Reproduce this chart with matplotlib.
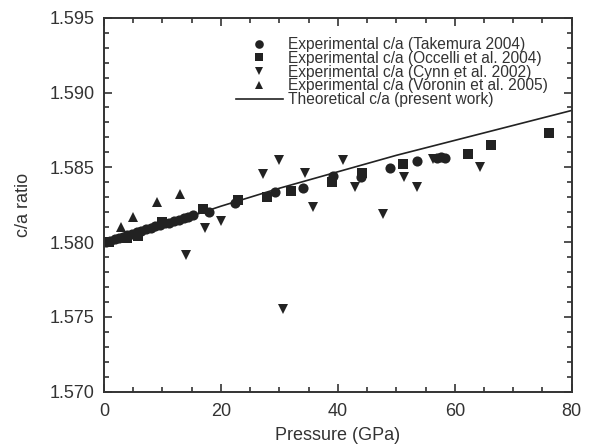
import matplotlib
matplotlib.use("Agg")
import matplotlib.pyplot as plt
from matplotlib.ticker import MultipleLocator, FormatStrFormatter

plt.rcParams['font.family'] = ['Liberation Sans', 'DejaVu Sans']

# Takemura 2004 (circles)
tak_p = [0.3, 1.0, 1.8, 2.5, 3.2, 4.0, 4.8, 5.6, 6.4, 7.2, 8.0, 8.8, 9.6, 10.4,
         11.2, 12.0, 12.8, 13.6, 14.4, 15.2, 18.0, 22.4, 29.2, 34.1, 39.2, 44.0,
         48.9, 53.6, 56.9, 57.6, 58.3]
tak_ca = [1.58003, 1.58010, 1.58022, 1.58030, 1.58036, 1.58049, 1.58055, 1.58068,
          1.58074, 1.58087, 1.58093, 1.58106, 1.58111, 1.58125, 1.58130, 1.58143,
          1.58150, 1.58161, 1.58170, 1.58181, 1.58199, 1.58259, 1.58333, 1.58362,
          1.58442, 1.58433, 1.58493, 1.58542, 1.58564, 1.58566, 1.58565]

# Occelli et al. 2004 (squares)
occ_p = [0.0, 0.8, 3.9, 5.9, 9.9, 17.0, 22.9, 27.9, 32.0, 39.0, 44.2, 51.1,
         62.2, 66.2, 76.2]
occ_ca = [1.58000, 1.58002, 1.58025, 1.58043, 1.58136, 1.58218, 1.58281, 1.58303,
          1.58344, 1.58404, 1.58460, 1.58520, 1.58589, 1.58649, 1.58727]

# Cynn et al. 2002 (down triangles)
cyn_p = [14.1, 17.2, 20.0, 27.2, 30.0, 30.7, 34.3, 35.7, 40.8, 42.9, 47.8,
         51.4, 53.6, 56.3, 64.3]
cyn_ca = [1.57914, 1.58092, 1.58141, 1.58455, 1.58549, 1.57551, 1.58460, 1.58233,
          1.58549, 1.58366, 1.58186, 1.58437, 1.58366, 1.58553, 1.58504]

# Voronin et al. 2005 (up triangles)
vor_p = [2.9, 5.0, 9.0, 13.0]
vor_ca = [1.58099, 1.58170, 1.58270, 1.58321]

# Theoretical c/a (present work)
th_p = [0, 10, 20, 30, 40, 50, 60, 70, 80]
th_ca = [1.5797, 1.5811, 1.5824, 1.5836, 1.5847, 1.5858, 1.5868, 1.5878, 1.5888]

fig = plt.figure(figsize=(5.91, 4.47), dpi=100)
ax = fig.add_axes([104/591, 1-391.7/447, (571.7-104)/591, (391.7-17.7)/447])

mc = '#222222'
ms = 7.3
ax.plot(tak_p, tak_ca, 'o', color=mc, ms=ms, mew=0,
        label='Experimental c/a (Takemura 2004)')
ax.plot(occ_p, occ_ca, 's', color=mc, ms=ms, mew=0,
        label='Experimental c/a (Occelli et al. 2004)')
ax.plot(cyn_p, cyn_ca, 'v', color=mc, ms=ms, mew=0,
        label='Experimental c/a (Cynn et al. 2002)')
ax.plot(vor_p, vor_ca, '^', color=mc, ms=ms, mew=0,
        label='Experimental c/a (Voronin et al. 2005)')
ax.plot(th_p, th_ca, '-', color=mc, lw=1.2,
        label='Theoretical c/a (present work)')

ax.set_xlim(0, 80)
ax.set_ylim(1.570, 1.595)
ax.xaxis.set_major_locator(MultipleLocator(20))
ax.xaxis.set_minor_locator(MultipleLocator(5))
ax.yaxis.set_major_locator(MultipleLocator(0.005))
ax.yaxis.set_minor_locator(MultipleLocator(0.001))
ax.yaxis.set_major_formatter(FormatStrFormatter('%.3f'))

tc = '#333333'
for s in ax.spines.values():
    s.set_linewidth(1.4)
    s.set_color(tc)
ax.tick_params(which='both', direction='in', top=True, right=True,
               colors=tc, labelsize=13, width=1.2)
ax.tick_params(which='major', length=6)
ax.tick_params(axis='x', which='major', pad=8)
ax.tick_params(axis='y', which='major', pad=7)
ax.tick_params(which='minor', length=3.5)

ax.set_xlabel('Pressure (GPa)', fontsize=13, color=tc, labelpad=5)
ax.set_ylabel('c/a ratio', fontsize=13, color=tc, labelpad=12)

leg = ax.legend(loc='upper left', bbox_to_anchor=(236/591, 1-37/447),
                bbox_transform=fig.transFigure, frameon=False, fontsize=11.2,
                handlelength=3.0, handletextpad=0.35, labelspacing=-0.08,
                borderpad=0, borderaxespad=0, numpoints=1, markerscale=0.85)
for t in leg.get_texts():
    t.set_color(tc)

fig.savefig('out.png', dpi=100)
